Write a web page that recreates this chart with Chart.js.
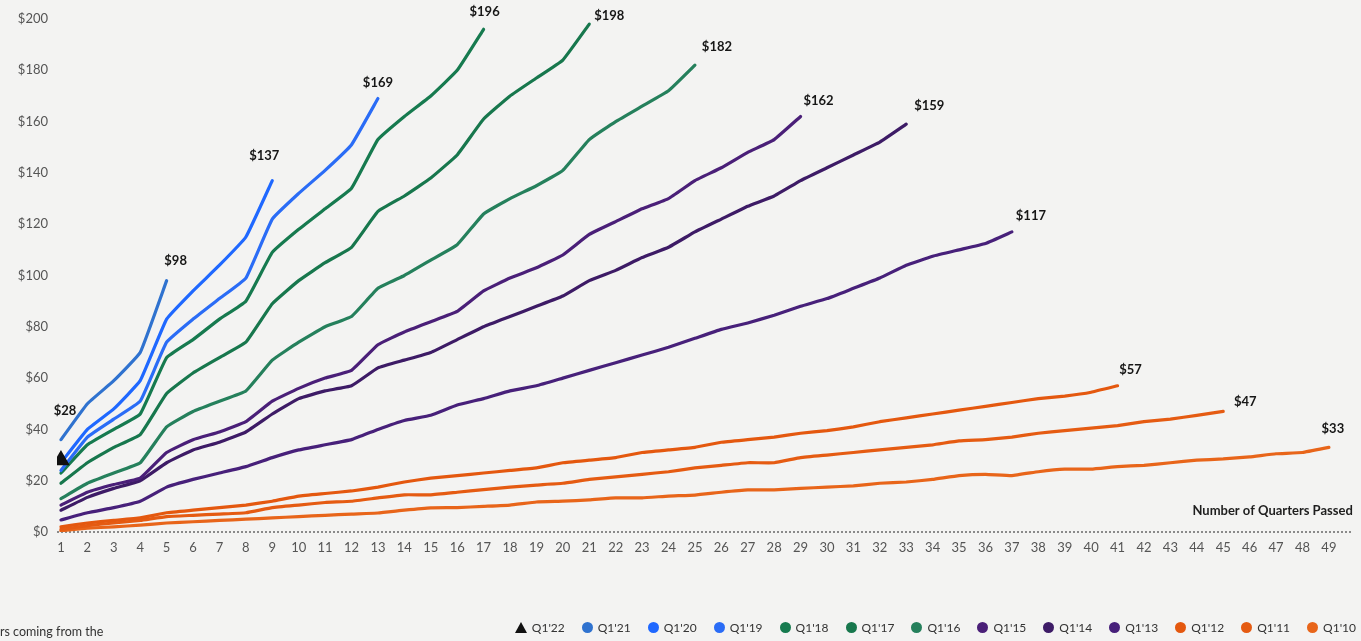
<!DOCTYPE html>
<html>
<head>
<meta charset="utf-8">
<title>Cumulative value by starting quarter</title>
<script src="https://cdn.jsdelivr.net/npm/chart.js@4.4.1/dist/chart.umd.min.js"></script>
<style>
    html, body {
        margin: 0;
        padding: 0;
        background: #f3f3f2;
    }
    body {
        width: 1361px;
        height: 641px;
        position: relative;
        overflow: hidden;
        font-family: Lato, 'Open Sans', sans-serif;
    }
    #chartWrap {
        position: absolute;
        left: 0;
        top: 0;
        width: 1361px;
        height: 641px;
    }
    #legend {
        position: absolute;
        right: 5px;
        top: 620px;
        display: flex;
        align-items: center;
        font-size: 12px;
        color: #333;
    }
    .legend-item {
        display: flex;
        align-items: center;
        margin-left: 17px;
    }
    .legend-item .dot {
        width: 11px;
        height: 11px;
        border-radius: 50%;
        margin-right: 5px;
    }
    .legend-item .tri {
        width: 0;
        height: 0;
        border-left: 6px solid transparent;
        border-right: 6px solid transparent;
        border-bottom: 11px solid #111;
        margin-right: 5px;
    }
    .footnote {
        position: absolute;
        left: 0;
        top: 624px;
        font-size: 12.5px;
        color: #333;
    }
</style>
</head>
<body>
<div id="chartWrap"><canvas id="cohortChart" width="1361" height="641"></canvas></div>
<div id="legend"></div>
<div class="footnote">rs coming from the</div>

<script>
// Cumulative value per starting quarter, indexed by number of quarters passed
const cohortNames = ["Q1'22", "Q1'21", "Q1'20", "Q1'19", "Q1'18", "Q1'17", "Q1'16",
                     "Q1'15", "Q1'14", "Q1'13", "Q1'12", "Q1'11", "Q1'10"];

const q1_22 = [28];
const q1_21 = [36, 50, 59, 70, 98];
const q1_20 = [27, 40, 48, 59, 83, 94, 104, 115, 137];
const q1_19 = [24, 37, 44, 51, 74, 83, 91, 99, 122, 132, 141, 151, 169];
const q1_18 = [23, 34, 40, 46, 68, 75, 83, 90, 109, 118, 126, 134, 153, 162, 170, 180, 196];
const q1_17 = [19, 27, 33, 38, 54, 62, 68, 74, 89, 98, 105, 111, 125, 131, 138, 147, 161, 170, 177, 184, 198];
const q1_16 = [13, 19, 23, 27, 41, 47, 51, 55, 67, 74, 80, 84, 95, 100, 106, 112, 124, 130, 135, 141,
               153, 160, 166, 172, 182];
const q1_15 = [10.5, 15.5, 18.5, 21, 31, 36, 39, 43, 51, 56, 60, 63, 73, 78, 82, 86, 94, 99, 103, 108,
               116, 121, 126, 130, 137, 142, 148, 153, 162];
const q1_14 = [8.5, 13.5, 17, 20, 27, 32, 35, 39, 46, 52, 55, 57, 64, 67, 70, 75, 80, 84, 88, 92,
               98, 102, 107, 111, 117, 122, 127, 131, 137, 142, 147, 152, 159];
const q1_13 = [4.7, 7.5, 9.5, 12, 17.5, 20.5, 23, 25.5, 29, 32, 34, 36, 40, 43.5, 45.5, 49.5, 52, 55, 57, 60,
               63, 66, 69, 72, 75.5, 79, 81.5, 84.5, 88, 91, 95, 99, 104, 107.5, 110, 112.5, 117];
const q1_12 = [2, 3.5, 4.5, 5.5, 7.5, 8.5, 9.5, 10.5, 12, 14, 15, 16, 17.5, 19.5, 21, 22, 23, 24, 25, 27,
               28, 29, 31, 32, 33, 35, 36, 37, 38.5, 39.5, 41, 43, 44.5, 46, 47.5, 49, 50.5, 52, 53, 54.5, 57];
const q1_11 = [1, 2.5, 3.5, 4.5, 6, 6.5, 7, 7.5, 9.5, 10.5, 11.5, 12, 13.3, 14.5, 14.5, 15.5, 16.5, 17.5, 18.3, 19,
               20.5, 21.5, 22.5, 23.5, 25, 26, 27, 27, 29, 30, 31, 32, 33, 34, 35.5, 36, 37, 38.5, 39.5, 40.5,
               41.5, 43, 44, 45.5, 47];
const q1_10 = [0.5, 1.5, 2, 2.7, 3.5, 4, 4.5, 5, 5.5, 6, 6.5, 7, 7.4, 8.5, 9.4, 9.5, 10, 10.5, 11.7, 12,
               12.5, 13.3, 13.3, 14, 14.4, 15.5, 16.4, 16.4, 17, 17.5, 18, 19, 19.5, 20.5, 22, 22.5, 22, 23.5, 24.5, 24.5,
               25.5, 26, 27, 28, 28.5, 29.3, 30.5, 31, 33];

const cohortValues = [q1_22, q1_21, q1_20, q1_19, q1_18, q1_17, q1_16, q1_15, q1_14, q1_13, q1_12, q1_11, q1_10];

const cohortColors = ['#111111', '#2f72cf', '#1f68ff', '#2a6cf6', '#167a4f', '#17774d', '#25805c',
                      '#4a1f78', '#3d1b66', '#47207a', '#e4580f', '#e55b12', '#e8651a'];

// where each end-of-line value label sits relative to its last point
const endLabelOffsets = [[4, -49], [9, -20], [-8, -25], [0, -16], [1, -17], [20, -8], [22, -18],
                         [18, -16], [23, -18], [19, -16], [13, -16], [22, -10], [4, -19]];

const FONT = 'Lato, "Open Sans", sans-serif';

const datasets = cohortValues.map((values, idx) => {
    const isSingle = values.length === 1;
    return {
        label: cohortNames[idx],
        data: values.map((v, i) => ({ x: i + 1, y: v })),
        borderColor: cohortColors[idx],
        backgroundColor: cohortColors[idx],
        borderWidth: 3.2,
        tension: 0.1,
        borderJoinStyle: 'round',
        borderCapStyle: 'round',
        showLine: !isSingle,
        pointStyle: isSingle ? 'triangle' : 'circle',
        pointRadius: isSingle ? 7 : 0,
        pointHoverRadius: isSingle ? 7 : 0
    };
});

// dotted zero line plus axis caption
const baselinePlugin = {
    id: 'baseline',
    beforeDatasetsDraw(chart) {
        const ctx = chart.ctx;
        const y0 = chart.scales.y.getPixelForValue(0);
        ctx.save();
        ctx.strokeStyle = '#8a8a8a';
        ctx.lineWidth = 2;
        ctx.setLineDash([2, 2]);
        ctx.beginPath();
        ctx.moveTo(chart.chartArea.left, y0);
        ctx.lineTo(chart.chartArea.right + 2, y0);
        ctx.stroke();
        ctx.setLineDash([]);
        ctx.fillStyle = '#1e1e1e';
        ctx.font = `bold 13px ${FONT}`;
        ctx.textAlign = 'right';
        ctx.textBaseline = 'middle';
        ctx.fillText('Number of Quarters Passed', chart.chartArea.right + 2, y0 - 21);
        ctx.restore();
    }
};

// "$xxx" label at the end of every series
const endLabelPlugin = {
    id: 'endLabels',
    afterDatasetsDraw(chart) {
        const ctx = chart.ctx;
        ctx.save();
        ctx.fillStyle = '#161616';
        ctx.font = `bold 13px ${FONT}`;
        ctx.textAlign = 'center';
        ctx.textBaseline = 'middle';
        chart.data.datasets.forEach((ds, idx) => {
            const meta = chart.getDatasetMeta(idx);
            const last = meta.data[meta.data.length - 1];
            const value = ds.data[ds.data.length - 1].y;
            const [dx, dy] = endLabelOffsets[idx];
            ctx.fillText('$' + Math.round(value), last.x + dx, last.y + dy);
        });
        ctx.restore();
    }
};

const chart = new Chart(document.getElementById('cohortChart'), {
    type: 'line',
    data: { datasets: datasets },
    options: {
        responsive: false,
        animation: false,
        layout: { padding: { top: 19, right: 6, left: 0, bottom: 0 } },
        plugins: {
            legend: { display: false },
            tooltip: { enabled: false }
        },
        scales: {
            x: {
                type: 'linear',
                min: 0.85,
                max: 49.83,
                grid: { display: false, drawTicks: false },
                border: { display: false },
                ticks: {
                    stepSize: 1,
                    autoSkip: false,
                    includeBounds: false,
                    maxRotation: 0,
                    padding: 8,
                    color: '#555',
                    font: { size: 13, family: FONT }
                },
                afterFit(scale) { scale.height = 109; }
            },
            y: {
                min: 0,
                max: 200,
                grid: { display: false, drawTicks: false },
                border: { display: false },
                ticks: {
                    stepSize: 20,
                    padding: 9,
                    color: '#555',
                    font: { size: 13, family: FONT },
                    callback: v => '$' + v
                },
                afterFit(scale) { scale.width = 57; }
            }
        }
    },
    plugins: [baselinePlugin, endLabelPlugin]
});

// legend row
const legend = document.getElementById('legend');
legend.innerHTML = cohortNames.map((name, idx) => {
    const marker = idx === 0
        ? '<span class="tri"></span>'
        : `<span class="dot" style="background:${cohortColors[idx]}"></span>`;
    return `<div class="legend-item">${marker}<span>${name}</span></div>`;
}).join('');
</script>
</body>
</html>
